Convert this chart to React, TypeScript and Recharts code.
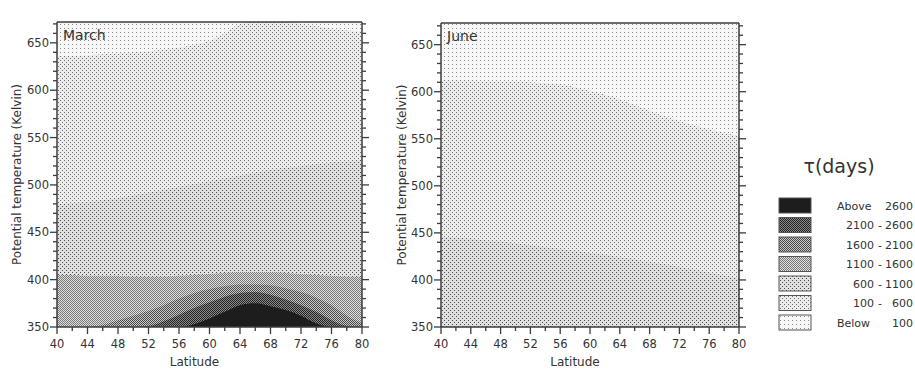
import React from "react";
import { AreaChart, Area, XAxis, YAxis } from "recharts";

const FONT = "'DejaVu Sans', 'Liberation Sans', sans-serif";
const INK = "#3c3c3c";

// grid of latitudes the contour edges are read at
const latitudes = [40, 42, 44, 46, 48, 50, 52, 54, 56, 58, 60, 62, 64, 66, 68, 70, 72, 74, 76, 78, 80];
const latitudeTicks = [40, 42, 44, 46, 48, 50, 52, 54, 56, 58, 60, 62, 64, 66, 68, 70, 72, 74, 76, 78, 80];
const thetaTicks = [
  350, 360, 370, 380, 390, 400, 410, 420, 430, 440, 450, 460, 470, 480, 490, 500, 510,
  520, 530, 540, 550, 560, 570, 580, 590, 600, 610, 620, 630, 640, 650, 660, 670,
];

// tau classes, lowest first
const tauFrom = ["Below", "100", "600", "1100", "1600", "2100", "Above"];
const tauTo = ["100", "600", "1100", "1600", "2100", "2600", "2600"];

// March: upper edge (K) of each tau class, per latitude
const marchBelow100 = [672, 672, 672, 672, 672, 672, 672, 672, 672, 672, 672, 672, 672, 672, 672, 672, 672, 672, 672, 672, 672];
const march100to600 = [636, 636, 637, 638, 639, 640, 641, 643, 645, 648, 652, 660, 670, 672, 672, 672, 670, 668, 665, 663, 662];
const march600to1100 = [480, 481, 482, 484, 486, 489, 492, 495, 498, 501, 504, 507, 510, 513, 516, 518, 520, 522, 524, 525, 526];
const march1100to1600 = [405, 405, 404, 404, 404, 403, 403, 403, 404, 405, 406, 407, 408, 408, 408, 407, 406, 405, 404, 403, 403];
const march1600to2100 = [350, 350, 350, 352, 357, 362, 367, 373, 380, 386, 390, 393, 395, 395, 394, 391, 387, 381, 373, 362, 354];
const march2100to2600 = [350, 350, 350, 350, 350, 350, 351, 356, 363, 370, 376, 382, 386, 387, 384, 379, 373, 366, 357, 351, 350];
const marchAbove2600 = [350, 350, 350, 350, 350, 350, 350, 350, 350, 353, 359, 366, 373, 375, 372, 368, 362, 354, 350, 350, 350];

// June
const juneBelow100 = [673, 673, 673, 673, 673, 673, 673, 673, 673, 673, 673, 673, 673, 673, 673, 673, 673, 673, 673, 673, 673];
const june100to600 = [612, 612, 612, 611, 611, 611, 610, 609, 608, 605, 601, 597, 592, 586, 580, 574, 569, 564, 560, 556, 553];
const june600to1100 = [446, 445, 444, 442, 441, 439, 437, 435, 433, 431, 429, 427, 424, 422, 419, 417, 414, 411, 408, 405, 402];

const marchRows = latitudes.map((lat, i) => ({
  lat,
  c0: marchBelow100[i],
  c1: march100to600[i],
  c2: march600to1100[i],
  c3: march1100to1600[i],
  c4: march1600to2100[i],
  c5: march2100to2600[i],
  c6: marchAbove2600[i],
}));

const juneRows = latitudes.map((lat, i) => ({
  lat,
  c0: juneBelow100[i],
  c1: june100to600[i],
  c2: june600to1100[i],
}));

// stipple look of each class (lightest -> darkest)
const stipples = [
  { bg: "#f7f7f7", dot: "#8c8c8c", tile: 4, dots: [[0, 0]] },
  { bg: "#ececec", dot: "#6e6e6e", tile: 4, dots: [[0, 0], [2, 2]] },
  { bg: "#e0e0e0", dot: "#4a4a4a", tile: 4, dots: [[0, 0], [2, 2]] },
  { bg: "#e0e0e0", dot: "#777777", tile: 2, dots: [[0, 0], [1, 1]] },
  { bg: "#cacaca", dot: "#484848", tile: 2, dots: [[0, 0], [1, 1]] },
  { bg: "#8a8a8a", dot: "#222222", tile: 2, dots: [[0, 0], [1, 1]] },
  { bg: "#1d1d1d", dot: "#1d1d1d", tile: 2, dots: [] as number[][] },
];

function Patterns({ prefix }: { prefix: string }) {
  return (
    <defs>
      {stipples.map((s, k) => (
        <pattern key={k} id={`${prefix}-p${k}`} width={s.tile} height={s.tile} patternUnits="userSpaceOnUse">
          <rect width={s.tile} height={s.tile} fill={s.bg} />
          {s.dots.map(([x, y], j) => (
            <rect key={j} x={x} y={y} width={1} height={1} fill={s.dot} />
          ))}
        </pattern>
      ))}
    </defs>
  );
}

type Side = "left" | "right" | "top" | "bottom";

function makeTick(side: Side, majorStep: number, showLabels: boolean) {
  return function AxisTick(props: any) {
    const { x, y, payload } = props;
    const v = Number(payload.value);
    const major = v % majorStep === 0;
    const len = major ? 7 : 4;
    const dx = side === "left" ? -len : side === "right" ? len : 0;
    const dy = side === "bottom" ? len : side === "top" ? -len : 0;
    const txt = { fontFamily: FONT, fontSize: 11.5, fill: "#333" };
    return (
      <g>
        <line x1={x} y1={y} x2={x + dx} y2={y + dy} stroke={INK} strokeWidth={1.3} />
        {showLabels && major && side === "left" && (
          <text x={x - 8} y={y + 4} textAnchor="end" {...txt}>{v}</text>
        )}
        {showLabels && major && side === "bottom" && (
          <text x={x} y={y + 21} textAnchor="middle" {...txt}>{v}</text>
        )}
      </g>
    );
  };
}

const axisLine = { stroke: INK, strokeWidth: 1.5 };

interface PanelProps {
  rows: any[];
  layers: number[];
  yMax: number;
  left: number;
  width: number;
  leftAxisWidth: number;
  topAxisHeight: number;
  month: string;
  prefix: string;
  titleOffset: number;
}

function Panel({ rows, layers, yMax, left, width, leftAxisWidth, topAxisHeight, month, prefix, titleOffset }: PanelProps) {
  return (
    <div style={{ position: "absolute", left, top: 0 }}>
      <AreaChart width={width} height={371} data={rows} margin={{ top: 0, right: 0, bottom: 0, left: 0 }}>
        <Patterns prefix={prefix} />
        {layers.map((k) => (
          <Area
            key={k}
            xAxisId="b"
            yAxisId="l"
            dataKey={`c${k}`}
            type="monotone"
            stroke="none"
            fill={`url(#${prefix}-p${k})`}
            fillOpacity={1}
            dot={false}
            activeDot={false}
            isAnimationActive={false}
          />
        ))}
        <XAxis
          xAxisId="b"
          dataKey="lat"
          type="number"
          domain={[40, 80]}
          allowDataOverflow
          ticks={latitudeTicks}
          interval={0}
          height={44}
          tickSize={0}
          tickMargin={0}
          tickLine={false}
          axisLine={axisLine}
          tick={makeTick("bottom", 4, true)}
          label={(p: any) => (
            <text
              x={p.viewBox.x + p.viewBox.width / 2 - 15}
              y={p.viewBox.y + p.viewBox.height - 5}
              textAnchor="middle"
              fontFamily={FONT}
              fontSize={12}
              fill="#333"
            >
              Latitude
            </text>
          )}
        />
        <XAxis
          xAxisId="t"
          orientation="top"
          type="number"
          domain={[40, 80]}
          allowDataOverflow
          ticks={latitudeTicks}
          interval={0}
          height={topAxisHeight}
          tickSize={0}
          tickMargin={0}
          tickLine={false}
          axisLine={axisLine}
          tick={makeTick("top", 4, false)}
          label={(p: any) => (
            <text x={p.viewBox.x + 6} y={p.viewBox.y + p.viewBox.height + 18} fontFamily={FONT} fontSize={14} fill="#333">
              {month}
            </text>
          )}
        />
        <YAxis
          yAxisId="l"
          type="number"
          domain={[350, yMax]}
          allowDataOverflow
          ticks={thetaTicks}
          interval={0}
          width={leftAxisWidth}
          tickSize={0}
          tickMargin={0}
          tickLine={false}
          axisLine={axisLine}
          tick={makeTick("left", 50, true)}
          label={(p: any) => {
            const cx = p.viewBox.x + titleOffset;
            const cy = p.viewBox.y + p.viewBox.height / 2;
            return (
              <text
                x={cx}
                y={cy}
                dy={4}
                transform={`rotate(-90, ${cx}, ${cy})`}
                textAnchor="middle"
                fontFamily={FONT}
                fontSize={12}
                fill="#333"
              >
                Potential temperature (Kelvin)
              </text>
            );
          }}
        />
        <YAxis
          yAxisId="r"
          orientation="right"
          type="number"
          domain={[350, yMax]}
          allowDataOverflow
          ticks={thetaTicks}
          interval={0}
          width={18}
          tickSize={0}
          tickMargin={0}
          tickLine={false}
          axisLine={axisLine}
          tick={makeTick("right", 50, false)}
        />
      </AreaChart>
    </div>
  );
}

function TauLegend() {
  const order = [6, 5, 4, 3, 2, 1, 0];
  const txt = { fontFamily: FONT, fontSize: 11, fill: "#333" };
  return (
    <svg width={155} height={200} style={{ position: "absolute", left: 760, top: 140 }}>
      <Patterns prefix="lg" />
      <text x={79} y={33} textAnchor="middle" fontFamily={FONT} fontSize={19} fill="#333">
        τ(days)
      </text>
      {order.map((k, i) => {
        const top = 58 + i * 19.5;
        const base = top + 11.5;
        const word = tauFrom[k] === "Above" || tauFrom[k] === "Below";
        return (
          <g key={k}>
            <rect x={19} y={top} width={32} height={15} fill={`url(#lg-p${k})`} stroke="#555" strokeWidth={1} />
            {word ? (
              <text x={77} y={base} {...txt}>{tauFrom[k]}</text>
            ) : (
              <>
                <text x={114} y={base} textAnchor="end" {...txt}>{tauFrom[k]}</text>
                <text x={120} y={base} textAnchor="middle" {...txt}>-</text>
              </>
            )}
            <text x={153} y={base} textAnchor="end" {...txt}>{tauTo[k]}</text>
          </g>
        );
      })}
    </svg>
  );
}

export default function App() {
  return (
    <div style={{ position: "absolute", left: 0, top: 0, width: 915, height: 371, background: "#fff", overflow: "hidden" }}>
      <Panel
        rows={marchRows}
        layers={[0, 1, 2, 3, 4, 5, 6]}
        yMax={672}
        left={0}
        width={380}
        leftAxisWidth={57}
        topAxisHeight={22}
        month="March"
        prefix="mar"
        titleOffset={17}
      />
      <Panel
        rows={juneRows}
        layers={[0, 1, 2]}
        yMax={673}
        left={380}
        width={377}
        leftAxisWidth={61}
        topAxisHeight={23}
        month="June"
        prefix="jun"
        titleOffset={22}
      />
      <TauLegend />
    </div>
  );
}
